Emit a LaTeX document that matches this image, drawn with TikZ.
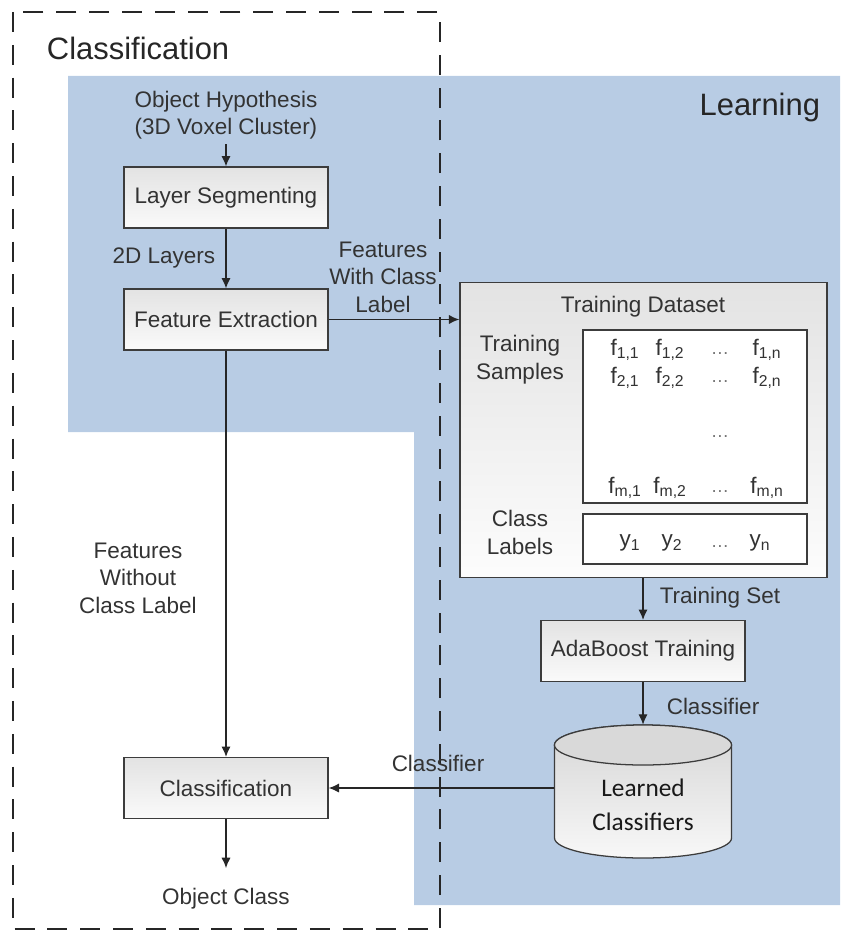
\documentclass[tikz,border=0pt]{standalone}
\usepackage{fontspec}
\setmainfont{Liberation Sans}
\newfontfamily\calibrifont{Carlito}
\usetikzlibrary{arrows.meta,positioning}

\definecolor{learnblue}{HTML}{B8CCE4}
\definecolor{txtgray}{HTML}{333333}
\definecolor{linegray}{HTML}{3C3C3C}

\tikzset{
  arr/.style={-{Latex[length=2.6mm,width=2.3mm]}, line width=0.9pt, draw=black!85},
  frame/.style={draw=black!85, line width=1.8pt, dash pattern=on 0.5cm off 0.32cm},
  title/.style={font=\fontsize{22}{26}\selectfont, text=black!85},
  lbl/.style={font=\fontsize{16}{19.5}\selectfont, align=center, text=txtgray},
  ent/.style={font=\fontsize{16}{18}\selectfont, text=txtgray, inner sep=1pt},
  dotsent/.style={font=\fontsize{13}{16}\selectfont, text=black!55, inner sep=1pt},
  box/.style={draw=linegray, line width=0.9pt, top color=black!11, bottom color=black!2,
    minimum width=5.1cm, minimum height=1.52cm, inner sep=0pt,
    font=\fontsize{16}{18}\selectfont, text=txtgray},
  dsbox/.style={draw=linegray, line width=0.9pt, top color=black!11, bottom color=black!1,
    minimum width=9.175cm, minimum height=7.375cm, inner sep=0pt},
  inbox/.style={draw=linegray, line width=0.9pt, fill=white, minimum width=5.6cm, inner sep=0pt},
  cylbody/.style={draw=linegray, line width=0.9pt, top color=black!16, bottom color=black!3},
}

\begin{document}
\begin{tikzpicture}[x=0.025cm, y=-0.025cm]
\useasboundingbox (0,0) rectangle (840,931);

% learning area
\fill[learnblue] (68,76) -- (840,76) -- (840,905) -- (414,905) -- (414,432) -- (68,432) -- cycle;
\node[title, anchor=east] (tlrn) at (825,108) {Learning};

% classification frame
\draw[frame] (13,12) rectangle (440,929);
\node[title, anchor=west] (tcls) at (42,48) {Classification};

% classification chain
\node[lbl] (oh) at (226,115) {Object Hypothesis\\(3D Voxel Cluster)};
\node[box] (ls) at (226,197.5) {Layer Segmenting};
\node[box] (fe) at (226,319.5) {Feature Extraction};
\node[box] (cls) at (226,788) {Classification};
\node[lbl] (oc) at (226,899) {Object Class};
\node[lbl] (l2d) at (164,258) {2D Layers};
\node[lbl] (lfw) at (383,277) {Features\\With Class\\Label};
\node[lbl] (lfwo) at (138,578) {Features\\Without\\Class Label};

% training dataset
\node[dsbox] (td) at (643.5,430) {};
\node[lbl] (tdt) at (643,307) {Training Dataset};
\node[inbox, minimum height=4.325cm] (fm) at (695,416.5) {};
\node[inbox, minimum height=1.25cm] (ym) at (695,539) {};
\node[lbl] (tsl) at (520,359.5) {Training\\Samples};
\node[lbl] (cll) at (520,532.5) {Class\\Labels};
\foreach \r/\y in {1/350, 2/378, m/488} {
  \node[ent] (f\r a) at (625,\y) {f\textsubscript{\r,1}};
  \node[ent] (f\r b) at (670,\y) {f\textsubscript{\r,2}};
  \node[dotsent] (f\r x) at (720,\y+4) {\dots};
  \node[ent] (f\r n) at (767,\y) {f\textsubscript{\r,n}};
}
\node[dotsent] (fxx) at (720,437) {\dots};
\node[ent] (ya) at (630,543) {y\textsubscript{1}};
\node[ent] (yb) at (672,543) {y\textsubscript{2}};
\node[dotsent] (yx) at (720,547) {\dots};
\node[ent] (yn) at (760,543) {y\textsubscript{n}};

% training and stored classifiers
\node[box] (ada) at (643,651) {AdaBoost Training};
\node[lbl] (lts) at (720,598) {Training Set};
\node[lbl] (lcl) at (713,706) {Classifier};
\node[lbl] (lcl2) at (438,763) {Classifier};

\coordinate (lcc) at (643,791.5);
\path[cylbody] ([shift={(-88.5,-46.5)}]lcc) -- ([shift={(-88.5,46.5)}]lcc)
  arc[start angle=180, end angle=360, x radius=2.2125cm, y radius=0.5cm]
  -- ([shift={(88.5,-46.5)}]lcc)
  arc[start angle=0, end angle=180, x radius=2.2125cm, y radius=0.5cm] -- cycle;
\draw[linegray, line width=0.9pt, fill=black!15] ([shift={(0,-46.5)}]lcc)
  ellipse[x radius=2.2125cm, y radius=0.5cm];
\node[minimum width=4.425cm, minimum height=3.325cm, inner sep=0pt] (lc) at (lcc) {};
\node[font=\calibrifont\fontsize{18}{24}\selectfont, align=center, text=black!90] (lct) at (643,805) {Learned\\Classifiers};

% connectors
\draw[arr] (oh) -- (ls);
\draw[arr] (ls) -- (fe);
\draw[arr] (fe) -- (cls);
\draw[arr] (fe.east) -- (fe.east -| td.west);
\draw[arr] (td.south -| ada.north) -- (ada.north);
\draw[arr] (ada) -- (lc);
\draw[arr] (cls.east -| lc.west) -- (cls.east);
\draw[arr, shorten >=11pt] (cls) -- (oc);
\end{tikzpicture}
\end{document}
